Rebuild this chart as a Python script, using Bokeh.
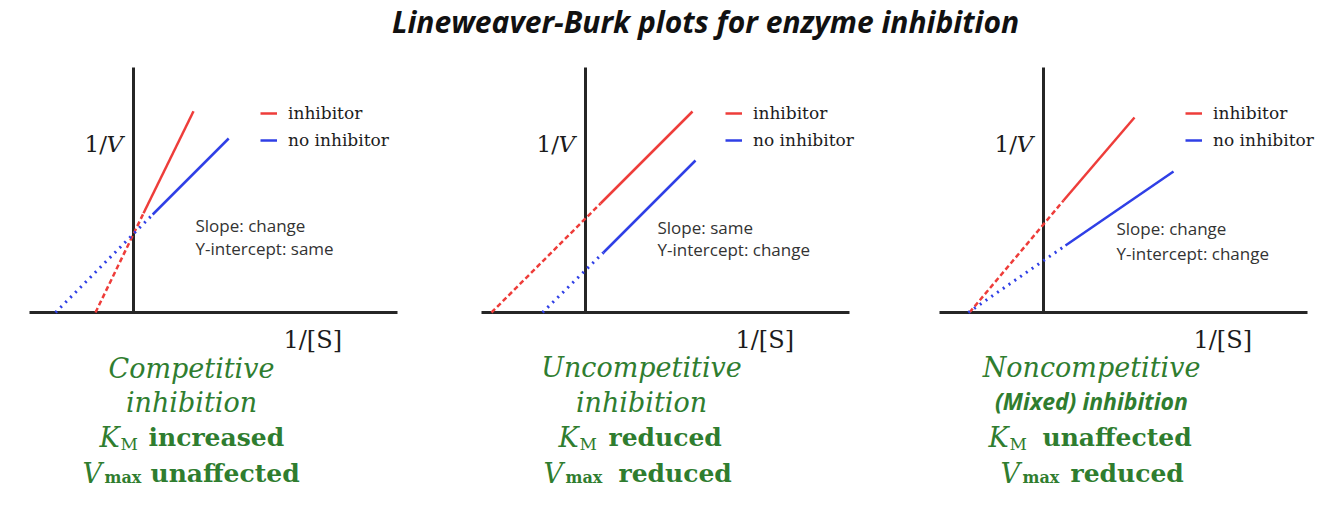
from bokeh.plotting import figure
from bokeh.layouts import column, row
from bokeh.models import Range1d, Legend, LegendItem
from bokeh.core.properties import value
from bokeh.embed import file_html
from bokeh.resources import INLINE

# ---------------- data (1/[S] , 1/V in arbitrary units) ----------------
# each line: [x-intercept point, start of measured (solid) part, end of solid part]
comp_inh_x = [-0.95, 0.25, 1.50]
comp_inh_y = [0.00, 2.48, 5.03]
comp_none_x = [-1.95, 0.48, 2.38]
comp_none_y = [0.00, 2.45, 4.35]

uncomp_inh_x = [-2.35, 0.375, 2.675]
uncomp_inh_y = [0.00, 2.725, 5.025]
uncomp_none_x = [-1.075, 0.45, 2.75]
uncomp_none_y = [0.00, 1.50, 3.80]

noncomp_inh_x = [-1.85, 0.50, 2.275]
noncomp_inh_y = [0.00, 2.80, 4.875]
noncomp_none_x = [-1.88, 0.55, 3.25]
noncomp_none_y = [0.00, 1.675, 3.525]

legend_labels = ["inhibitor", "no inhibitor"]
title_text = "Lineweaver-Burk plots for enzyme inhibition"
slope_texts = [
    ["Slope: change", "Y-intercept: same"],
    ["Slope: same", "Y-intercept:  change"],
    ["Slope: change", "Y-intercept: change"],
]
caption_titles = [
    ["Competitive", "inhibition"],
    ["Uncompetitive", "inhibition"],
    ["Noncompetitive", "(Mixed) inhibition"],
]
km_effects = ["increased", "reduced", "unaffected"]
vmax_effects = ["unaffected", "reduced", "reduced"]

# ---------------- layout / style ----------------
U = 40.0            # pixels per data unit
W, H = 1334, 507
TOP = 58            # bottom of title strip
RED = "#ee3d3a"
BLUE = "#2f3fe6"
GREEN = "#2f7d2f"
AXC = "#262626"
INK = "#1c1c1c"
SERIF = value("DejaVu Serif")
SANS = value("Open Sans")

panels = [
    dict(left=0, right=446, ox=133, oy=312,
         inh=(comp_inh_x, comp_inh_y), none=(comp_none_x, comp_none_y),
         leg_x=260, slope_x=195, slope_y=(225, 248),
         cap_cx=191, cap_y=(368, 402),
         km=(99, 120, 148), vm=(82, 104, 150), mixed=False),
    dict(left=446, right=898, ox=585, oy=312,
         inh=(uncomp_inh_x, uncomp_inh_y), none=(uncomp_none_x, uncomp_none_y),
         leg_x=725, slope_x=657, slope_y=(227, 249),
         cap_cx=641, cap_y=(367, 402),
         km=(558, 579, 608), vm=(543, 565, 618), mixed=False),
    dict(left=898, right=W, ox=1043, oy=312,
         inh=(noncomp_inh_x, noncomp_inh_y), none=(noncomp_none_x, noncomp_none_y),
         leg_x=1185, slope_x=1116, slope_y=(228, 253),
         cap_cx=1091, cap_y=(367, 400),
         km=(988, 1009, 1042), vm=(1000, 1022, 1070), mixed=True),
]
KM_BASE, VM_BASE = 437, 473


def make_fig(w, h, xr, yr):
    p = figure(width=w, height=h, x_range=Range1d(*xr), y_range=Range1d(*yr),
               output_backend="svg", toolbar_location=None, min_border=0,
               x_axis_location=None, y_axis_location=None)
    p.xgrid.visible = False
    p.ygrid.visible = False
    p.outline_line_color = None
    p.background_fill_color = "white"
    p.border_fill_color = "white"
    return p


figs = []
for i, P in enumerate(panels):
    ox, oy = P["ox"], P["oy"]

    def dx(X):
        return (X - ox) / U

    def dy(Y):
        return (oy - Y) / U

    p = make_fig(P["right"] - P["left"], H - TOP,
                 (dx(P["left"]), dx(P["right"])), (dy(H), dy(TOP)))

    # axes lines
    p.segment(x0=[-2.6, 0], y0=[0, 0], x1=[6.6, 0], y1=[0, 6.125],
              line_color=AXC, line_width=3)

    ix, iy = P["inh"]
    nx, ny = P["none"]
    # extrapolated parts
    p.line(ix[:2], iy[:2], line_color=RED, line_width=2.5, line_dash="5 3")
    p.line(nx[:2], ny[:2], line_color=BLUE, line_width=3, line_dash="2 5")
    # measured parts
    r_inh = p.line(ix[1:], iy[1:], line_color=RED, line_width=2.5)
    r_none = p.line(nx[1:], ny[1:], line_color=BLUE, line_width=2.5)

    # legend
    leg_h = 20 + 7 + 20
    legend = Legend(items=[LegendItem(label=legend_labels[0], renderers=[r_inh]),
                           LegendItem(label=legend_labels[1], renderers=[r_none])],
                    location=(P["leg_x"] - P["left"], (H - TOP) - (113 - 10 - TOP) - leg_h),
                    glyph_width=17, glyph_height=20, label_standoff=11, spacing=7,
                    padding=0, margin=0, border_line_alpha=0, background_fill_alpha=0,
                    label_text_font="DejaVu Serif", label_text_font_size="17px",
                    label_text_color=INK, label_height=20)
    p.add_layout(legend)

    # axis titles
    p.text(x=[dx(ox - 49)], y=[dy(143)], text=["1/"], text_font=SERIF,
           text_font_size="23px", text_color=INK, text_baseline="middle")
    p.text(x=[dx(ox - 27)], y=[dy(143)], text=["V"], text_font=SERIF,
           text_font_style="italic", text_font_size="23px", text_color=INK,
           text_baseline="middle")
    p.text(x=[dx(ox + 150)], y=[dy(339)], text=["1/[S]"], text_font=SERIF,
           text_font_size="24px", text_color=INK, text_baseline="middle")

    # slope / intercept notes
    p.text(x=[dx(P["slope_x"])] * 2, y=[dy(P["slope_y"][0]), dy(P["slope_y"][1])],
           text=slope_texts[i], text_font=SANS, text_font_size="17px",
           text_color="#333333", text_baseline="middle")

    # captions
    cx = P["cap_cx"]
    p.text(x=[dx(cx)], y=[dy(P["cap_y"][0])], text=[caption_titles[i][0]],
           text_font=SERIF, text_font_style="italic", text_font_size="27px",
           text_color=GREEN, text_align="center", text_baseline="middle")
    if P["mixed"]:
        p.text(x=[dx(cx)], y=[dy(P["cap_y"][1])], text=[caption_titles[i][1]],
               text_font=SANS, text_font_style="bold italic", text_font_size="23px",
               text_color=GREEN, text_align="center", text_baseline="middle")
    else:
        p.text(x=[dx(cx)], y=[dy(P["cap_y"][1])], text=[caption_titles[i][1]],
               text_font=SERIF, text_font_style="italic", text_font_size="27px",
               text_color=GREEN, text_align="center", text_baseline="middle")

    kx, msx, kwx = P["km"]
    vx, mxx, vwx = P["vm"]
    # K_M line
    p.text(x=[dx(kx)], y=[dy(KM_BASE)], text=["K"], text_font=SERIF,
           text_font_style="italic", text_font_size="27px", text_color=GREEN,
           text_baseline="alphabetic")
    p.text(x=[dx(msx)], y=[dy(KM_BASE + 6)], text=["M"], text_font=SERIF,
           text_font_size="17px", text_color=GREEN, text_baseline="alphabetic")
    p.text(x=[dx(kwx)], y=[dy(KM_BASE)], text=[km_effects[i]], text_font=SERIF,
           text_font_style="bold", text_font_size="25px", text_color=GREEN,
           text_baseline="alphabetic")
    # V_max line
    p.text(x=[dx(vx)], y=[dy(VM_BASE)], text=["V"], text_font=SERIF,
           text_font_style="italic", text_font_size="27px", text_color=GREEN,
           text_baseline="alphabetic")
    p.text(x=[dx(mxx)], y=[dy(VM_BASE + 4)], text=["max"], text_font=SERIF,
           text_font_style="bold", text_font_size="16px", text_color=GREEN,
           text_baseline="alphabetic")
    p.text(x=[dx(vwx)], y=[dy(VM_BASE)], text=[vmax_effects[i]], text_font=SERIF,
           text_font_style="bold", text_font_size="25px", text_color=GREEN,
           text_baseline="alphabetic")
    figs.append(p)

# title strip
t = make_fig(W, TOP, (0, W), (0, TOP))
t.text(x=[705], y=[TOP - 21], text=[title_text], text_font=SANS,
       text_font_style="bold italic", text_font_size="30px", text_color="#111111",
       text_align="center", text_baseline="middle")

layout = column(t, row(*figs, spacing=0), spacing=0)
open("out.html", "w").write(file_html(layout, INLINE))
